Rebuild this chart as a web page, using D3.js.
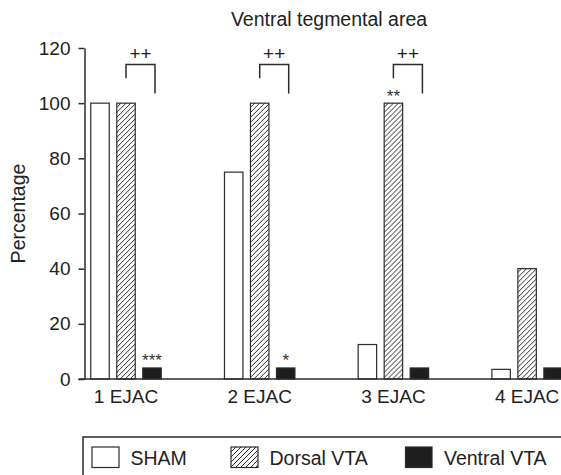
<!DOCTYPE html>
<html>
<head>
<meta charset="utf-8">
<script src="https://cdn.jsdelivr.net/npm/d3@7"></script>
<style>
  body { margin: 0; background: #fff; }
  svg { display: block; font-family: "Liberation Sans", Arial, sans-serif; }
</style>
</head>
<body>
<div id="chart"></div>
<script>
// chart data
const categories = ["1 EJAC", "2 EJAC", "3 EJAC", "4 EJAC"];
const seriesNames = ["SHAM", "Dorsal VTA", "Ventral VTA"];
const shamValues = [100, 75, 12.5, 3.5];
const dorsalValues = [100, 100, 100, 40];
const ventralValues = [4, 4, 4, 4];
const yTicks = [0, 20, 40, 60, 80, 100, 120];
// significance marks: [category index, series index, label]
const starMarks = [[0, 2, "***"], [1, 2, "*"], [2, 1, "**"]];
// "++" brackets between dorsal and ventral bars
const bracketCats = [0, 1, 2];
const bracketLabel = "++";

const width = 561, height = 475;
const ink = "#2b2b2b";

const svg = d3.select("#chart")
    .append("svg")
    .attr("width", width)
    .attr("height", height);

// hatch pattern for dorsal bars
const defs = svg.append("defs");
defs.append("pattern")
    .attr("id", "hatch")
    .attr("patternUnits", "userSpaceOnUse")
    .attr("width", 5)
    .attr("height", 5)
    .append("path")
    .attr("d", "M-1,1 l2,-2 M0,5 l5,-5 M4,6 l2,-2")
    .attr("stroke", ink)
    .attr("stroke-width", 1);

const fills = ["#fff", "url(#hatch)", "#1e1e1e"];

const rows = categories.map((c, i) => ({
    cat: c,
    values: [shamValues[i], dorsalValues[i], ventralValues[i]]
}));

// scales
const step = 133.7;
const x0 = d3.scaleBand()
    .domain(categories)
    .range([126 - step / 2, 126 - step / 2 + step * categories.length]);

const x1 = d3.scaleBand()
    .domain(seriesNames)
    .range([step / 2 - 39, step / 2 + 39])
    .paddingInner(0.29)
    .paddingOuter(0.145);

const y = d3.scaleLinear()
    .domain([0, 120])
    .range([379, 48]);

const barX = (ci, si) => x0(categories[ci]) + x1(seriesNames[si]);
const barC = (ci, si) => barX(ci, si) + x1.bandwidth() / 2;

// bars
const groups = svg.selectAll(".group")
    .data(rows)
    .enter()
    .append("g")
    .attr("class", "group")
    .attr("transform", d => `translate(${x0(d.cat)},0)`);

groups.selectAll("rect")
    .data(d => d.values.map((v, i) => ({ key: seriesNames[i], value: v, i: i })))
    .enter()
    .append("rect")
    .attr("x", d => x1(d.key))
    .attr("y", d => y(d.value))
    .attr("width", x1.bandwidth())
    .attr("height", d => y(0) - y(d.value))
    .attr("fill", d => fills[d.i])
    .attr("stroke", ink)
    .attr("stroke-width", 1.2);

// y axis
const yAxis = svg.append("g")
    .attr("transform", "translate(84.5,0)")
    .call(d3.axisLeft(y).tickValues(yTicks).tickSizeInner(6).tickSizeOuter(0).tickPadding(8));
yAxis.selectAll("path, line").attr("stroke", ink).attr("stroke-width", 1.5);
yAxis.selectAll("text")
    .attr("fill", "#222")
    .style("font-size", "19px")
    .style("font-family", "'Liberation Sans', Arial, sans-serif");

// baseline running to the right edge
svg.append("line")
    .attr("x1", 78.5)
    .attr("x2", width)
    .attr("y1", y(0))
    .attr("y2", y(0))
    .attr("stroke", ink)
    .attr("stroke-width", 1.5);

// x axis labels
const xAxis = svg.append("g")
    .attr("transform", `translate(0,${y(0)})`)
    .call(d3.axisBottom(x0).tickSize(0).tickPadding(11));
xAxis.select(".domain").remove();
xAxis.selectAll("text")
    .attr("fill", "#222")
    .style("font-size", "19px")
    .style("font-family", "'Liberation Sans', Arial, sans-serif");

// title
svg.append("text")
    .attr("x", 329)
    .attr("y", 26)
    .attr("text-anchor", "middle")
    .attr("fill", "#222")
    .style("font-size", "19.5px")
    .text("Ventral tegmental area");

// y label
svg.append("text")
    .attr("transform", `translate(25,${(y(0) + y(120)) / 2}) rotate(-90)`)
    .attr("text-anchor", "middle")
    .attr("fill", "#222")
    .style("font-size", "19.5px")
    .text("Percentage");

// asterisks
svg.selectAll(".star")
    .data(starMarks)
    .enter()
    .append("text")
    .attr("class", "star")
    .attr("x", d => barC(d[0], d[1]))
    .attr("y", d => y(rows[d[0]].values[d[1]]) - 1.5)
    .attr("text-anchor", "middle")
    .attr("fill", "#333")
    .style("font-size", "17px")
    .text(d => d[2]);

// brackets
bracketCats.forEach(ci => {
    const xl = barC(ci, 1);
    const xr = xl + 29;
    svg.append("path")
        .attr("d", `M${xl},${y(109)} V${y(114)} H${xr} V${y(103.5)}`)
        .attr("fill", "none")
        .attr("stroke", ink)
        .attr("stroke-width", 1.5);
    svg.append("text")
        .attr("x", (xl + xr) / 2)
        .attr("y", y(115.7))
        .attr("text-anchor", "middle")
        .attr("fill", "#222")
        .style("font-size", "19px")
        .text(bracketLabel);
});

// legend
svg.append("rect")
    .attr("x", 83)
    .attr("y", 437)
    .attr("width", 520)
    .attr("height", 80)
    .attr("fill", "none")
    .attr("stroke", ink)
    .attr("stroke-width", 1.5);

const legendX = [92, 231, 405.5];
const legend = svg.selectAll(".legend")
    .data(seriesNames)
    .enter()
    .append("g")
    .attr("class", "legend")
    .attr("transform", (d, i) => `translate(${legendX[i]},447)`);

legend.append("rect")
    .attr("width", (d, i) => i === 2 ? 26.5 : 27)
    .attr("height", 20.5)
    .attr("fill", (d, i) => fills[i])
    .attr("stroke", ink)
    .attr("stroke-width", 1.2);

legend.append("text")
    .attr("x", 38.5)
    .attr("y", 17.5)
    .attr("fill", "#222")
    .style("font-size", "19.5px")
    .text(d => d);
</script>
</body>
</html>
